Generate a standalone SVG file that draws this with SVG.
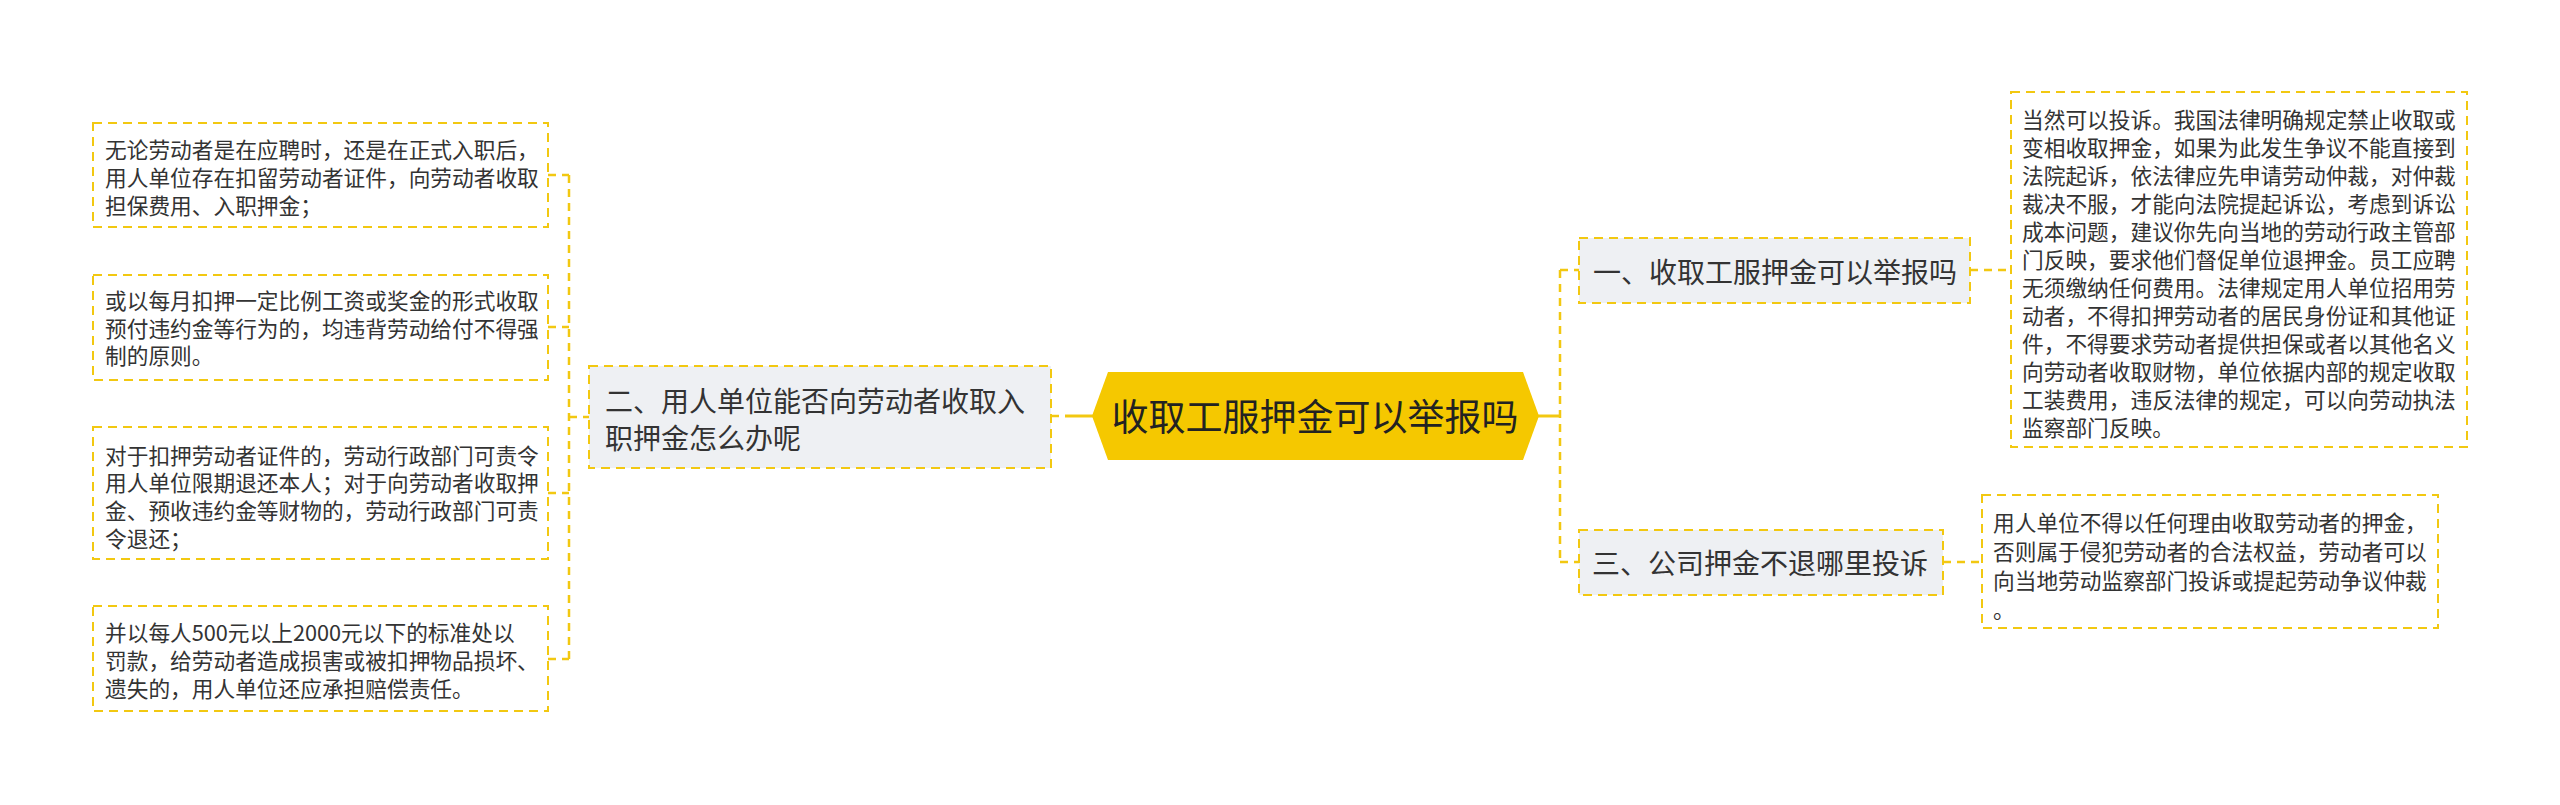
<svg xmlns="http://www.w3.org/2000/svg" width="2560" height="805" viewBox="0 0 2560 805">
<style>
.bg{fill:#ffffff}
.leaf{fill:#ffffff;stroke:#F2C811;stroke-width:2;stroke-dasharray:9 6}
.branch{fill:#EEF0F3;stroke:#F2C811;stroke-width:2;stroke-dasharray:9 6}
.root{fill:#F5C800}
.con{fill:none;stroke:#F2C811;stroke-width:2.5;stroke-dasharray:8 6}
.solid{fill:none;stroke:#F2C811;stroke-width:3}
text{font-family:"Noto Sans CJK SC","Noto Sans",sans-serif;fill:#333333}
.t22{font-size:21.7px}
.t28{font-size:28px}
.t37{font-size:37px;fill:#222222}
</style>
<rect class="bg" x="0" y="0" width="2560" height="805"/>
<g id="connectors">
  <path class="con" d="M569,175 V659"/>
  <path class="con" d="M548,175 H569 M548,327 H569 M548,493 H569 M548,659 H569 M569,417 H589"/>
  <path class="con" d="M1051,416 H1064"/>
  <path class="solid" d="M1065,416 H1094"/>
  <path class="solid" d="M1538,416 H1560"/>
  <path class="con" d="M1560,270 V562"/>
  <path class="con" d="M1560,270 H1579 M1560,562 H1579"/>
  <path class="con" d="M1970,270 H2011 M1943,562 H1982"/>
</g>
<g id="root">
  <polygon class="root" points="1092,416 1108,372 1523,372 1539,416 1523,460 1108,460"/>
  <text class="t37" x="1315" y="431" text-anchor="middle">收取工服押金可以举报吗</text>
</g>
<g id="branch2">
  <rect class="branch" x="589" y="366" width="462" height="102"/>
  <text class="t28" x="605" y="412">二、用人单位能否向劳动者收取入</text>
  <text class="t28" x="605" y="449">职押金怎么办呢</text>
</g>
<g id="leaf2a">
  <rect class="leaf" x="93" y="123" width="455" height="104"/>
  <text class="t22" x="105" y="157.5">无论劳动者是在应聘时，还是在正式入职后，</text>
  <text class="t22" x="105" y="185.5">用人单位存在扣留劳动者证件，向劳动者收取</text>
  <text class="t22" x="105" y="213.5">担保费用、入职押金；</text>
</g>
<g id="leaf2b">
  <rect class="leaf" x="93" y="275" width="455" height="105"/>
  <text class="t22" x="105" y="309">或以每月扣押一定比例工资或奖金的形式收取</text>
  <text class="t22" x="105" y="336.5">预付违约金等行为的，均违背劳动给付不得强</text>
  <text class="t22" x="105" y="364">制的原则。</text>
</g>
<g id="leaf2c">
  <rect class="leaf" x="93" y="427" width="455" height="132"/>
  <text class="t22" x="105" y="463.5">对于扣押劳动者证件的，劳动行政部门可责令</text>
  <text class="t22" x="105" y="491">用人单位限期退还本人；对于向劳动者收取押</text>
  <text class="t22" x="105" y="519">金、预收违约金等财物的，劳动行政部门可责</text>
  <text class="t22" x="105" y="546.5">令退还；</text>
</g>
<g id="leaf2d">
  <rect class="leaf" x="93" y="606" width="455" height="105"/>
  <text class="t22" x="105" y="640.5">并以每人500元以上2000元以下的标准处以</text>
  <text class="t22" x="105" y="668.5">罚款，给劳动者造成损害或被扣押物品损坏、</text>
  <text class="t22" x="105" y="696.5">遗失的，用人单位还应承担赔偿责任。</text>
</g>
<g id="branch1">
  <rect class="branch" x="1579" y="238" width="391" height="65"/>
  <text class="t28" x="1593" y="282.5">一、收取工服押金可以举报吗</text>
</g>
<g id="leaf1">
  <rect class="leaf" x="2011" y="92" width="456" height="355"/>
  <text class="t22" x="2022" y="127.5">当然可以投诉。我国法律明确规定禁止收取或</text>
  <text class="t22" x="2022" y="155.5">变相收取押金，如果为此发生争议不能直接到</text>
  <text class="t22" x="2022" y="183.5">法院起诉，依法律应先申请劳动仲裁，对仲裁</text>
  <text class="t22" x="2022" y="211.5">裁决不服，才能向法院提起诉讼，考虑到诉讼</text>
  <text class="t22" x="2022" y="239.5">成本问题，建议你先向当地的劳动行政主管部</text>
  <text class="t22" x="2022" y="267.5">门反映，要求他们督促单位退押金。员工应聘</text>
  <text class="t22" x="2022" y="295.5">无须缴纳任何费用。法律规定用人单位招用劳</text>
  <text class="t22" x="2022" y="323.5">动者，不得扣押劳动者的居民身份证和其他证</text>
  <text class="t22" x="2022" y="351.5">件，不得要求劳动者提供担保或者以其他名义</text>
  <text class="t22" x="2022" y="379.5">向劳动者收取财物，单位依据内部的规定收取</text>
  <text class="t22" x="2022" y="407.5">工装费用，违反法律的规定，可以向劳动执法</text>
  <text class="t22" x="2022" y="435.5">监察部门反映。</text>
</g>
<g id="branch3">
  <rect class="branch" x="1579" y="530" width="364" height="65"/>
  <text class="t28" x="1592" y="573.5">三、公司押金不退哪里投诉</text>
</g>
<g id="leaf3">
  <rect class="leaf" x="1982" y="495" width="456" height="133"/>
  <text class="t22" x="1993" y="530.5">用人单位不得以任何理由收取劳动者的押金，</text>
  <text class="t22" x="1993" y="560">否则属于侵犯劳动者的合法权益，劳动者可以</text>
  <text class="t22" x="1993" y="589">向当地劳动监察部门投诉或提起劳动争议仲裁</text>
  <text class="t22" x="1993" y="618">。</text>
</g>
</svg>
